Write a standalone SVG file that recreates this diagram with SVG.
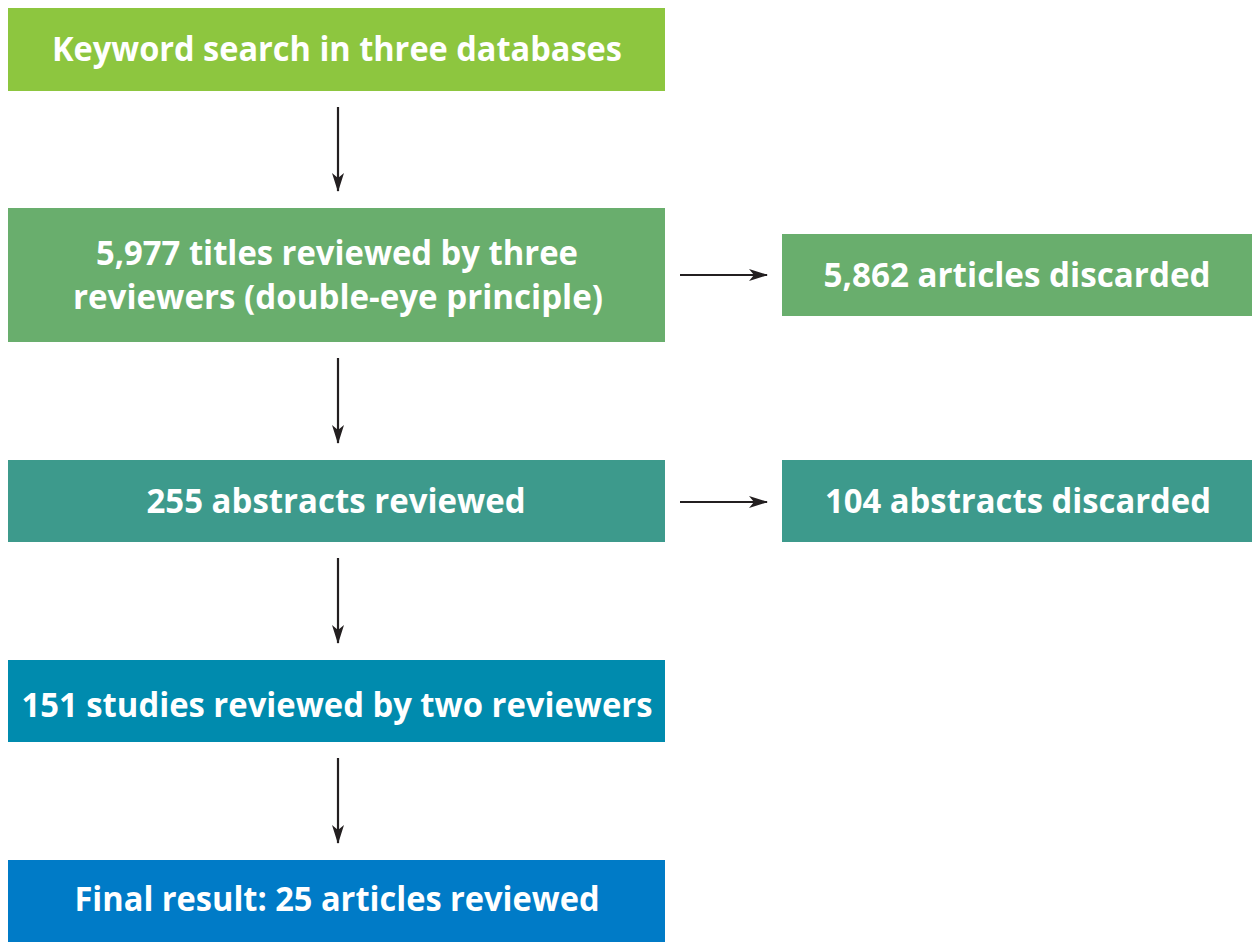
<svg xmlns="http://www.w3.org/2000/svg" width="1258" height="942" viewBox="0 0 1258 942">
<style>
.t{font-family:"Open Sans","Liberation Sans",sans-serif;font-weight:bold;font-size:34px;fill:#ffffff;text-anchor:middle}
.c{stroke:#231f20;stroke-width:2.2;fill:none}
</style>
<defs>
<marker id="ah" viewBox="0 0 19 12" refX="18" refY="6" markerWidth="19" markerHeight="12" markerUnits="userSpaceOnUse" orient="auto">
<path d="M0,0 L19,6 L0,12 L5,6 Z" fill="#231f20"/>
</marker>
</defs>
<rect width="1258" height="942" fill="#ffffff"/>
<g id="n1">
<rect x="8" y="8" width="657" height="83" fill="#8dc63f"/>
<text class="t" x="337" y="61" textLength="570" lengthAdjust="spacingAndGlyphs">Keyword search in three databases</text>
</g>
<g id="n2">
<rect x="8" y="208" width="657" height="134" fill="#69ae6d"/>
<text class="t" x="337" y="265" textLength="482" lengthAdjust="spacingAndGlyphs">5,977 titles reviewed by three</text>
<text class="t" x="338" y="309" textLength="530" lengthAdjust="spacingAndGlyphs">reviewers (double-eye principle)</text>
</g>
<g id="n3">
<rect x="782" y="234" width="470" height="82" fill="#69ae6d"/>
<text class="t" x="1017" y="287" textLength="387" lengthAdjust="spacingAndGlyphs">5,862 articles discarded</text>
</g>
<g id="n4">
<rect x="8" y="460" width="657" height="82" fill="#3d9a8c"/>
<text class="t" x="336" y="513" textLength="379" lengthAdjust="spacingAndGlyphs">255 abstracts reviewed</text>
</g>
<g id="n5">
<rect x="782" y="460" width="470" height="82" fill="#3d9a8c"/>
<text class="t" x="1018" y="513" textLength="386" lengthAdjust="spacingAndGlyphs">104 abstracts discarded</text>
</g>
<g id="n6">
<rect x="8" y="660" width="657" height="82" fill="#008bae"/>
<text class="t" x="337" y="717" textLength="631" lengthAdjust="spacingAndGlyphs">151 studies reviewed by two reviewers</text>
</g>
<g id="n7">
<rect x="8" y="860" width="657" height="82" fill="#007bc7"/>
<text class="t" x="337" y="911" textLength="525" lengthAdjust="spacingAndGlyphs">Final result: 25 articles reviewed</text>
</g>
<g id="connectors">
<line class="c" x1="338" y1="107" x2="338" y2="191" marker-end="url(#ah)"/>
<line class="c" x1="338" y1="358" x2="338" y2="443" marker-end="url(#ah)"/>
<line class="c" x1="338" y1="558" x2="338" y2="643" marker-end="url(#ah)"/>
<line class="c" x1="338" y1="758" x2="338" y2="843" marker-end="url(#ah)"/>
<line class="c" x1="680" y1="275" x2="767" y2="275" marker-end="url(#ah)"/>
<line class="c" x1="680" y1="502" x2="767" y2="502" marker-end="url(#ah)"/>
</g>
</svg>
